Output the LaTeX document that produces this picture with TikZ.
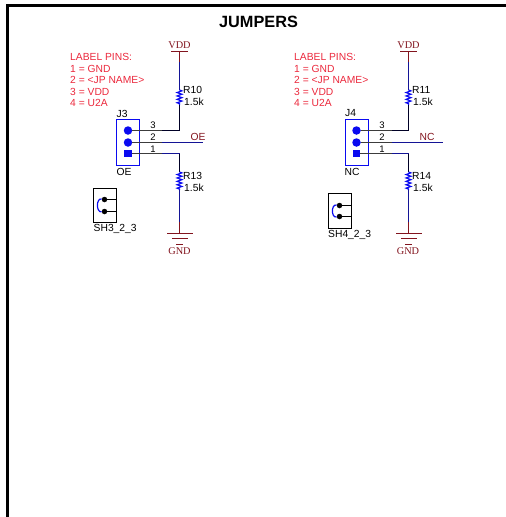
\documentclass[tikz,border=0pt]{standalone}
\usepackage{fontspec}
\setmainfont{Liberation Sans}
\newfontfamily\seriffont{Liberation Serif}
\usetikzlibrary{decorations.pathmorphing}
\definecolor{netred}{RGB}{130,20,30}
\definecolor{notered}{RGB}{235,40,60}
\definecolor{wireblue}{RGB}{20,20,150}
\definecolor{pinblue}{RGB}{10,10,240}
\definecolor{pingrey}{RGB}{60,60,60}
\tikzset{
    txt/.style={inner sep=0pt,font=\fontsize{10.3}{10.3}\selectfont},
    note/.style={txt,anchor=west,text=notered},
    netname/.style={inner sep=0pt,text=netred,font=\seriffont\fontsize{10.3}{10.3}\selectfont},
    netlabel/.style={txt,text=netred},
    pinnum/.style={inner sep=0pt,font=\fontsize{9.5}{9.5}\selectfont},
    wire/.style={line width=1.2pt,wireblue},
    blackwire/.style={line width=1.2pt,black!85!blue},
    pinwire/.style={line width=1.3pt,pingrey},
    stub/.style={line width=1.2pt,netred},
    res/.style={line width=1.2pt,pinblue,decorate,decoration={zigzag,segment length=3.4pt,amplitude=2.4pt}},
    header/.style={draw=pinblue,line width=1.3pt},
    shunt/.style={draw=black,line width=1.3pt},
    hole/.style={circle,fill=pinblue,inner sep=0pt,minimum size=8.5pt},
    holesq/.style={rectangle,fill=pinblue,inner sep=0pt,minimum size=7.5pt},
    dot/.style={circle,fill=black,inner sep=0pt,minimum size=5.5pt},
}
\begin{document}
\begin{tikzpicture}[x=1pt,y=-1pt]
    \useasboundingbox (0,0) rectangle (506,517);

    % frame and title
    \coordinate (frameA) at (7.5,517);
    \coordinate (frameB) at (7.5,5);
    \coordinate (frameC) at (506,5);
    \draw[line width=3pt,line join=miter] (frameA) -- (frameB) -- (frameC);
    \node[inner sep=0pt,font=\bfseries\fontsize{16.3}{16.3}\selectfont] (title) at (258.5,22) {JUMPERS};

    % notes
    \node[note] (noteA0) at (70,56.5) {LABEL PINS:};
    \node[note] (noteA1) at (70,68.5) {1 = GND};
    \node[note] (noteA2) at (70,79.5) {2 = <JP NAME>};
    \node[note] (noteA3) at (70,91.5) {3 = VDD};
    \node[note] (noteA4) at (70,103) {4 = U2A};
    \node[note] (noteB0) at (294,56.5) {LABEL PINS:};
    \node[note] (noteB1) at (294,68.5) {1 = GND};
    \node[note] (noteB2) at (294,79.5) {2 = <JP NAME>};
    \node[note] (noteB3) at (294,91.5) {3 = VDD};
    \node[note] (noteB4) at (294,103) {4 = U2A};

    % J3
    \draw[header] (116.5,119.5) rectangle (139.5,165.5);
    \node[txt,anchor=west] (J3) at (116.5,113.5) {J3};
    \node[txt] (J3name) at (124,171.5) {OE};
    \node[hole] (J3a) at (128,130.5) {};
    \node[hole] (J3b) at (128,142.5) {};
    \node[holesq] (J3c) at (128,153.5) {};
    \coordinate (J3d) at (162,130.5);
    \coordinate (J3e) at (162,142.5);
    \coordinate (J3f) at (162,153.5);
    \coordinate (J3g) at (179.5,130.5);
    \coordinate (J3h) at (203,142.5);
    \coordinate (J3i) at (179.5,153.5);
    \draw[pinwire] (J3a) -- (J3d);
    \draw[pinwire] (J3b) -- (J3e);
    \draw[pinwire] (J3c) -- (J3f);
    \node[pinnum] (J3n3) at (153,125.5) {3};
    \node[pinnum] (J3n2) at (153,137.5) {2};
    \node[pinnum] (J3n1) at (153,149) {1};
    \node[netlabel] (OEnet) at (198,137) {OE};
    \draw[blackwire] (J3d) -- (J3g);
    \draw[wire] (J3e) -- (J3h);
    \draw[wire] (J3f) -- (J3i);

    % R10 and VDD
    \coordinate (R10a) at (179.5,51.5);
    \coordinate (R10b) at (179.5,62);
    \coordinate (R10c) at (179.5,90);
    \coordinate (R10d) at (179.5,105);
    \coordinate (VDDal) at (171,51.5);
    \coordinate (VDDar) at (188,51.5);
    \node[netname] (VDDa) at (179.5,45.5) {VDD};
    \draw[stub] (VDDal) -- (VDDar);
    \draw[stub] (R10a) -- (R10b);
    \draw[wire] (R10b) -- (R10c);
    \draw[res] (R10c) -- (R10d);
    \draw[blackwire] (R10d) -- (J3g);
    \node[txt,anchor=west] (R10) at (183,90) {R10};
    \node[txt,anchor=west] (R10v) at (184,102) {1.5k};

    % R13 and GND
    \coordinate (R13a) at (179.5,172);
    \coordinate (R13b) at (179.5,190);
    \coordinate (R13c) at (179.5,222);
    \coordinate (R13d) at (179.5,233);
    \coordinate (GNDal) at (167,233.5);
    \coordinate (GNDar) at (192.5,233.5);
    \coordinate (GNDbl) at (172,238.5);
    \coordinate (GNDbr) at (188,238.5);
    \coordinate (GNDcl) at (176,244.5);
    \coordinate (GNDcr) at (183,244.5);
    \draw[blackwire] (J3i) -- (R13a);
    \draw[res] (R13a) -- (R13b);
    \draw[wire] (R13b) -- (R13c);
    \draw[stub] (R13c) -- (R13d);
    \draw[stub] (GNDal) -- (GNDar);
    \draw[stub] (GNDbl) -- (GNDbr);
    \draw[stub] (GNDcl) -- (GNDcr);
    \node[netname] (GNDa) at (179.5,251.5) {GND};
    \node[txt,anchor=west] (R13) at (183,175.5) {R13};
    \node[txt,anchor=west] (R13v) at (184,187.5) {1.5k};

    % SH3
    \draw[shunt] (93.5,188.5) rectangle (116.5,222.5);
    \node[dot] (SH3a) at (104.5,199.5) {};
    \node[dot] (SH3b) at (104.5,211.5) {};
    \coordinate (SH3c) at (116.5,199.5);
    \coordinate (SH3d) at (116.5,211.5);
    \draw[line width=1.2pt] (SH3a) -- (SH3c);
    \draw[line width=1.2pt] (SH3b) -- (SH3d);
    \draw[line width=1.2pt,pinblue] (SH3a) .. controls (96,198) and (96,212.5) .. (SH3b);
    \node[txt,anchor=west] (SH3) at (93.5,228.5) {SH3\_2\_3};

    % J4
    \draw[header] (345.5,119.5) rectangle (368.5,165.5);
    \node[txt,anchor=west] (J4) at (345,113.5) {J4};
    \node[txt] (J4name) at (352,171.5) {NC};
    \node[hole] (J4a) at (356.5,130.5) {};
    \node[hole] (J4b) at (356.5,142.5) {};
    \node[holesq] (J4c) at (356.5,153.5) {};
    \coordinate (J4d) at (392,130.5);
    \coordinate (J4e) at (392,142.5);
    \coordinate (J4f) at (392,153.5);
    \coordinate (J4g) at (408.5,130.5);
    \coordinate (J4h) at (443,142.5);
    \coordinate (J4i) at (408.5,153.5);
    \draw[pinwire] (J4a) -- (J4d);
    \draw[pinwire] (J4b) -- (J4e);
    \draw[pinwire] (J4c) -- (J4f);
    \node[pinnum] (J4n3) at (382,125.5) {3};
    \node[pinnum] (J4n2) at (382,137.5) {2};
    \node[pinnum] (J4n1) at (382,149) {1};
    \node[netlabel] (NCnet) at (427,137) {NC};
    \draw[blackwire] (J4d) -- (J4g);
    \draw[wire] (J4e) -- (J4h);
    \draw[wire] (J4f) -- (J4i);

    % R11 and VDD
    \coordinate (R11a) at (408.5,51.5);
    \coordinate (R11b) at (408.5,62);
    \coordinate (R11c) at (408.5,90);
    \coordinate (R11d) at (408.5,105);
    \coordinate (VDDbl) at (400,51.5);
    \coordinate (VDDbr) at (417,51.5);
    \node[netname] (VDDb) at (408.5,45.5) {VDD};
    \draw[stub] (VDDbl) -- (VDDbr);
    \draw[stub] (R11a) -- (R11b);
    \draw[wire] (R11b) -- (R11c);
    \draw[res] (R11c) -- (R11d);
    \draw[blackwire] (R11d) -- (J4g);
    \node[txt,anchor=west] (R11) at (412,90) {R11};
    \node[txt,anchor=west] (R11v) at (413,102) {1.5k};

    % R14 and GND
    \coordinate (R14a) at (408.5,172);
    \coordinate (R14b) at (408.5,190);
    \coordinate (R14c) at (408.5,222);
    \coordinate (R14d) at (408.5,233);
    \coordinate (GNDdl) at (396,233.5);
    \coordinate (GNDdr) at (421.5,233.5);
    \coordinate (GNDel) at (401,238.5);
    \coordinate (GNDer) at (417,238.5);
    \coordinate (GNDfl) at (405,244.5);
    \coordinate (GNDfr) at (412,244.5);
    \draw[blackwire] (J4i) -- (R14a);
    \draw[res] (R14a) -- (R14b);
    \draw[wire] (R14b) -- (R14c);
    \draw[stub] (R14c) -- (R14d);
    \draw[stub] (GNDdl) -- (GNDdr);
    \draw[stub] (GNDel) -- (GNDer);
    \draw[stub] (GNDfl) -- (GNDfr);
    \node[netname] (GNDb) at (408,251.5) {GND};
    \node[txt,anchor=west] (R14) at (412,175.5) {R14};
    \node[txt,anchor=west] (R14v) at (413,187.5) {1.5k};

    % SH4
    \draw[shunt] (328.5,193.5) rectangle (351.5,228.5);
    \node[dot] (SH4a) at (339.5,205.5) {};
    \node[dot] (SH4b) at (339.5,216.5) {};
    \coordinate (SH4c) at (351.5,205.5);
    \coordinate (SH4d) at (351.5,216.5);
    \draw[line width=1.2pt] (SH4a) -- (SH4c);
    \draw[line width=1.2pt] (SH4b) -- (SH4d);
    \draw[line width=1.2pt,pinblue] (SH4a) .. controls (331,204) and (331,218) .. (SH4b);
    \node[txt,anchor=west] (SH4) at (328,234.5) {SH4\_2\_3};
\end{tikzpicture}
\end{document}
